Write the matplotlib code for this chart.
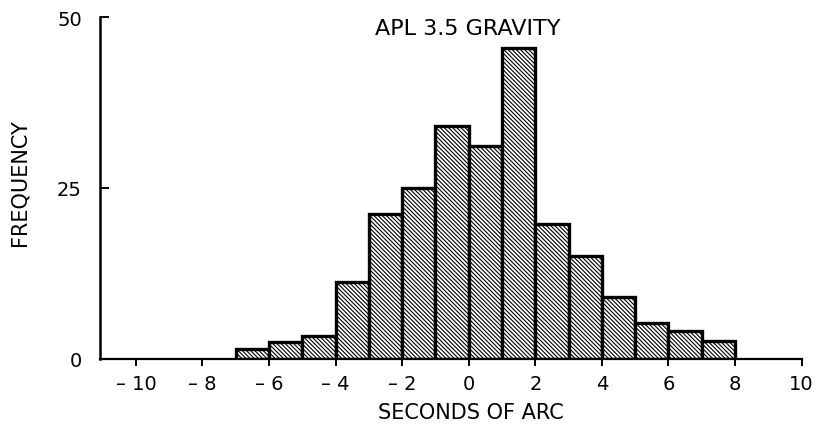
import matplotlib
matplotlib.use("Agg")
import matplotlib.pyplot as plt

# histogram bins (left edges, width 1) and frequencies
bin_left = [-7, -6, -5, -4, -3, -2, -1, 0, 1, 2, 3, 4, 5, 6, 7]
freq = [1.5, 2.5, 3.4, 11.3, 21.2, 25.0, 34.0, 31.1, 45.4, 19.7, 15.0, 9.0, 5.3, 4.1, 2.6]

x_ticks = [-10, -8, -6, -4, -2, 0, 2, 4, 6, 8, 10]
x_tick_labels = ["\u2013 10", "\u2013 8", "\u2013 6", "\u2013 4", "\u2013 2", "0", "2", "4", "6", "8", "10"]
y_ticks = [0, 25, 50]

plt.rcParams['font.family'] = ['DejaVu Sans']
plt.rcParams['hatch.linewidth'] = 0.8

fig = plt.figure(figsize=(8.18, 4.27), dpi=100)
ax = fig.add_axes([0.1222, 0.157, 0.8578, 0.8008])

ax.bar(bin_left, freq, width=1, align='edge', facecolor='white',
       edgecolor='black', linewidth=2.4, hatch='\\' * 8)

ax.set_xlim(-11.08, 10)
ax.set_ylim(0, 50)

ax.spines['top'].set_visible(False)
ax.spines['right'].set_visible(False)
ax.spines['left'].set_linewidth(1.8)
ax.spines['bottom'].set_linewidth(1.6)

ax.set_xticks(x_ticks)
ax.set_xticklabels(x_tick_labels)
ax.set_yticks(y_ticks)
ax.tick_params(axis='x', direction='out', length=5, width=1.4, pad=6, labelsize=14)
ax.tick_params(axis='y', direction='in', length=6.5, width=1.4, pad=13, labelsize=14)

ax.text(0.524, 0.968, "APL 3.5 GRAVITY", transform=ax.transAxes,
        ha='center', va='center', fontsize=16)

fig.text(471 / 818, 1 - 413 / 427, "SECONDS OF ARC", ha='center', va='center', fontsize=15)
fig.text(20 / 818, 1 - 183 / 427, "FREQUENCY", ha='center', va='center',
         rotation=90, fontsize=15)

fig.savefig("out.png", dpi=100)
